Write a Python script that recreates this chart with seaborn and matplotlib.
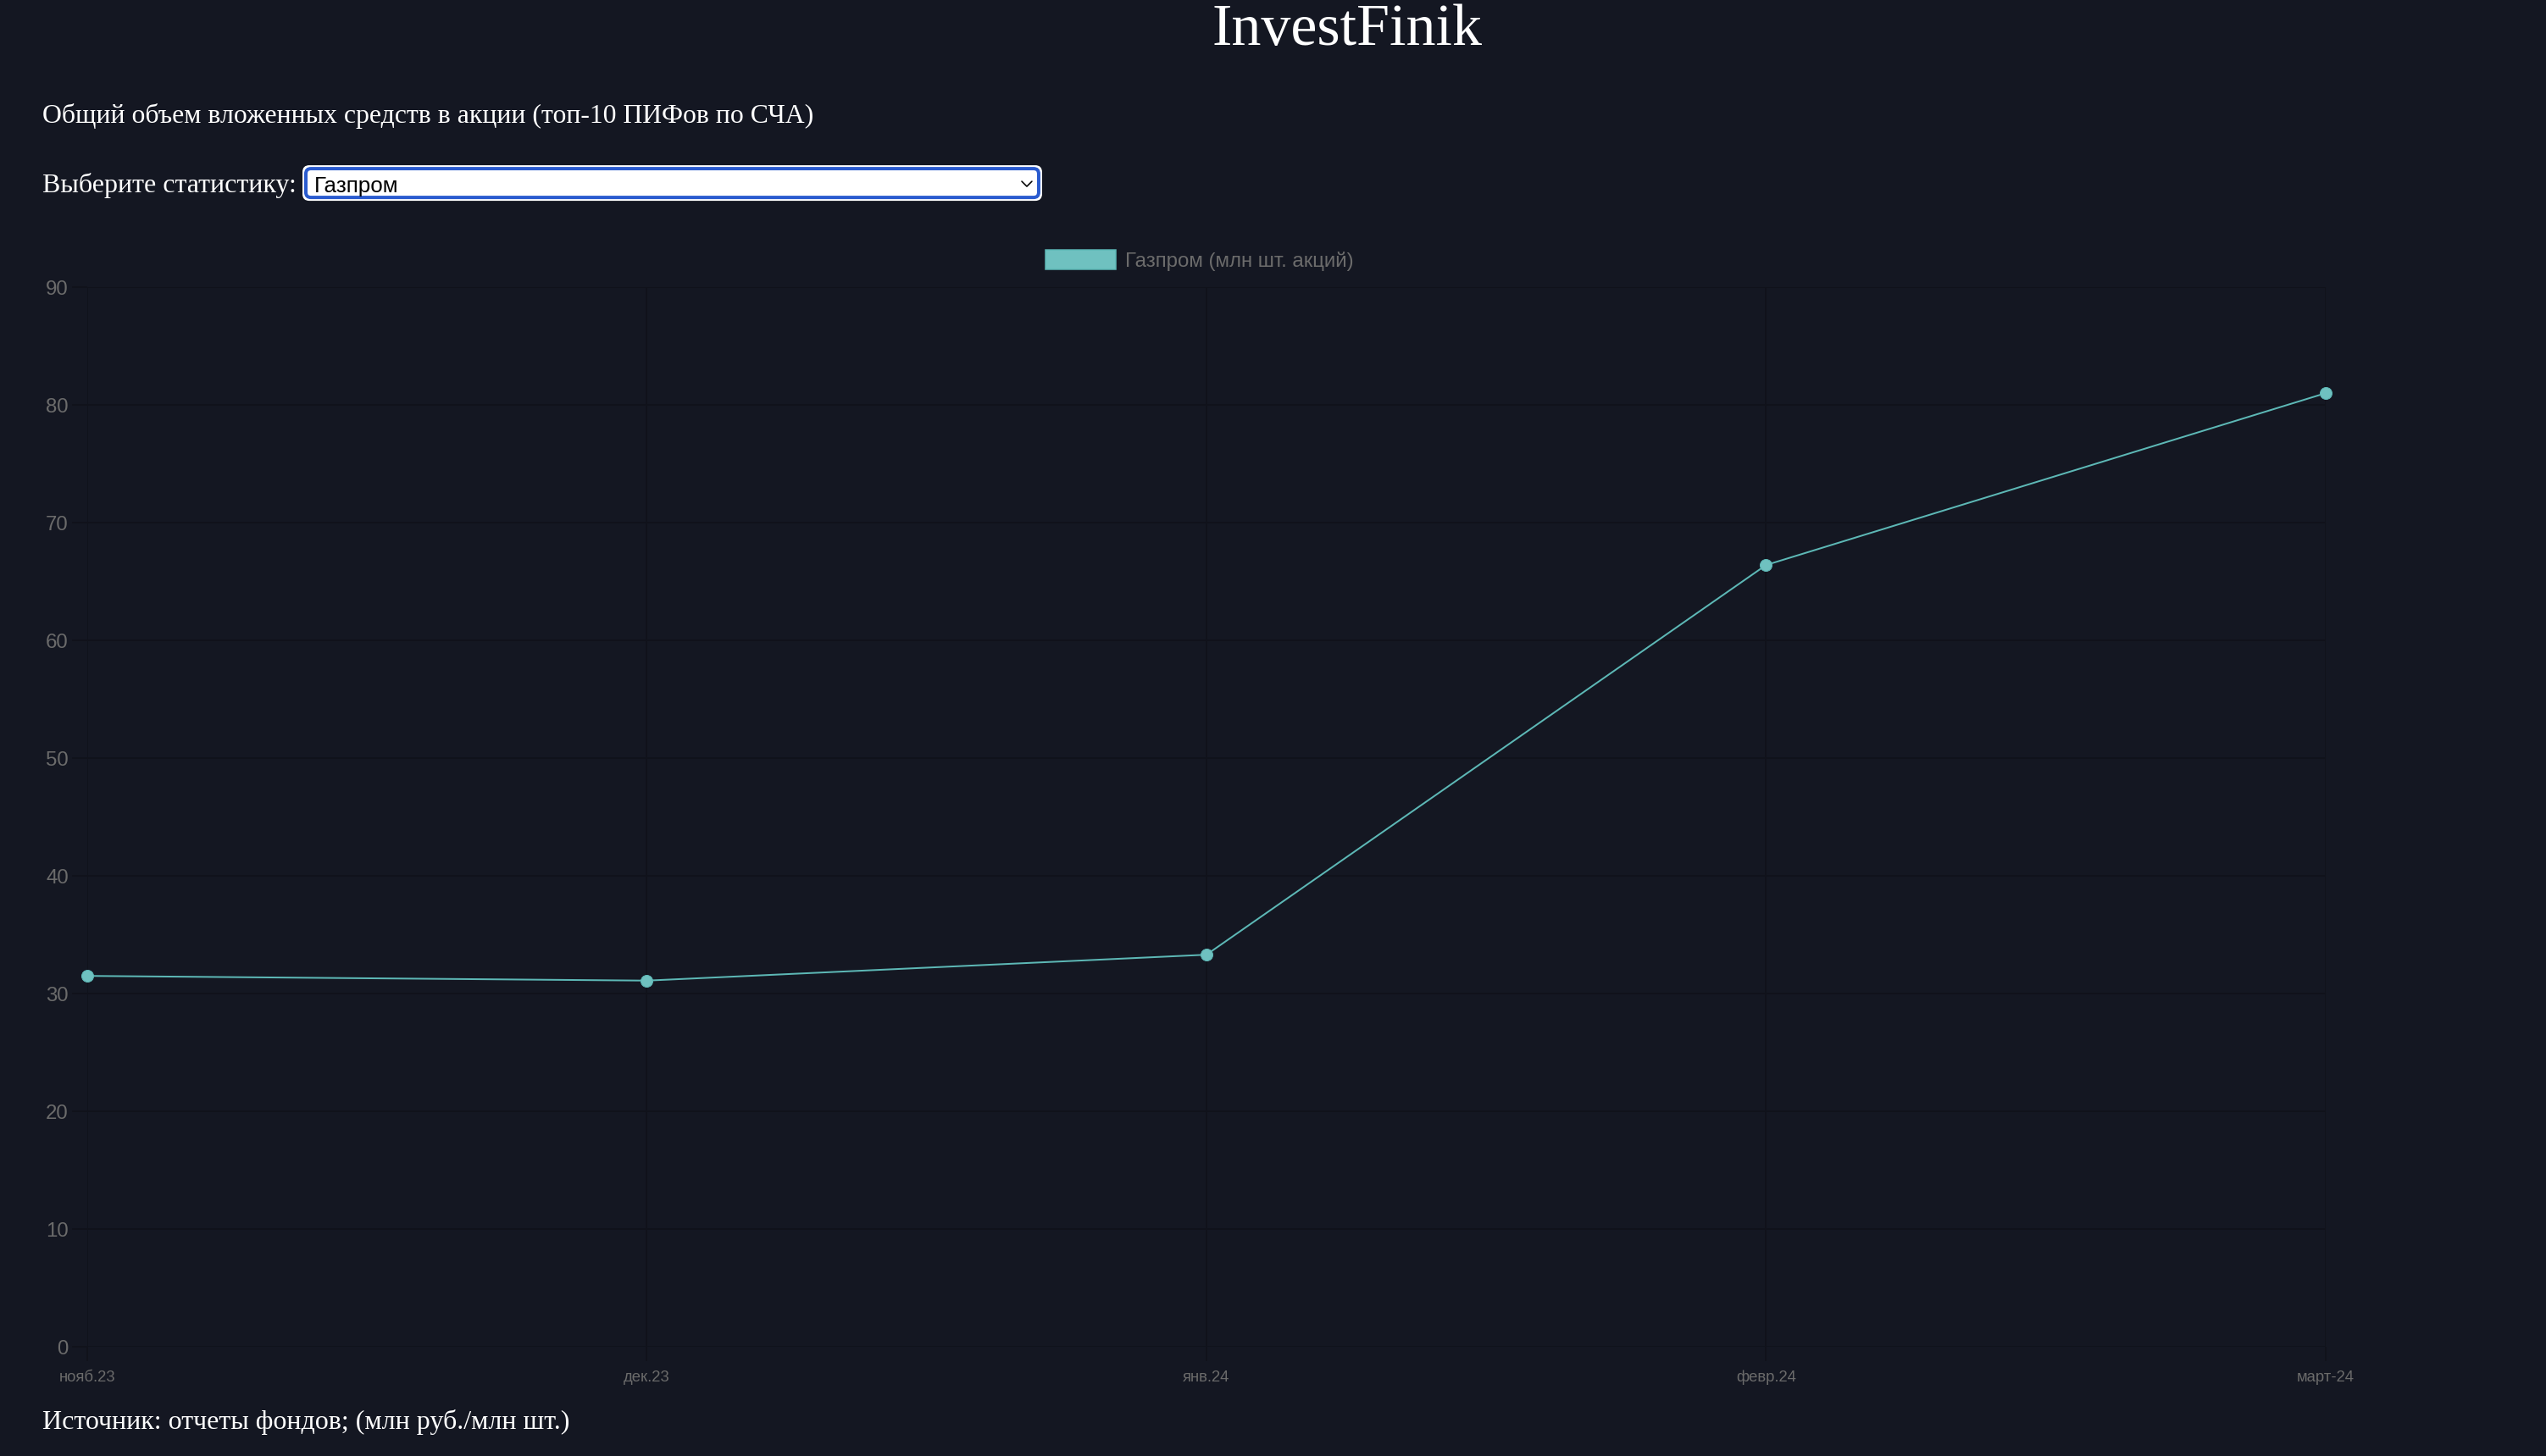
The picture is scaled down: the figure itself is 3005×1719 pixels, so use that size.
import matplotlib
matplotlib.use("Agg")
import matplotlib.pyplot as plt
from matplotlib.patches import FancyBboxPatch, Patch
import seaborn as sns
import pandas as pd

# ---- data ----
months = ["нояб.23", "дек.23", "янв.24", "февр.24", "март-24"]
gazprom = [31.5, 31.1, 33.3, 66.4, 81.0]
series_label = "Газпром (млн шт. акций)"
y_ticks = [0, 10, 20, 30, 40, 50, 60, 70, 80, 90]

title = "InvestFinik"
subtitle = "Общий объем вложенных средств в акции (топ-10 ПИФов по СЧА)"
select_label = "Выберите статистику:"
select_value = "Газпром"
source = "Источник: отчеты фондов; (млн руб./млн шт.)"

# ---- style ----
BG = "#141722"
GRID = "#10121b"
TICK = "#6b6b6b"
LINE = "#5db8b6"
FILL = "#6fc1c0"
W, H = 3006, 1720
PT = 0.72  # px -> pt at dpi 100

sns.set_theme(style="dark")
plt.rcParams["font.family"] = ["Liberation Sans", "DejaVu Sans"]

fig = plt.figure(figsize=(W / 100 - 0.001, H / 100 - 0.001), dpi=100,
                 facecolor=BG)

# overlay axes in pixel coordinates for page text / widget
ov = fig.add_axes([0, 0, 1, 1], zorder=0)
ov.set_xlim(0, W)
ov.set_ylim(H, 0)
ov.axis("off")
ov.patch.set_visible(False)

serif = ["Liberation Serif", "DejaVu Serif"]
ov.text(1590, 53, title, family=serif, fontsize=70 * PT, color="white",
        ha="center", va="baseline")
ov.text(50, 145, subtitle, family=serif, fontsize=31.8 * PT, color="white",
        ha="left", va="baseline")
ov.text(50, 227, select_label, family=serif, fontsize=32 * PT, color="white",
        ha="left", va="baseline")
ov.text(50, 1687, source, family=serif, fontsize=32 * PT, color="white",
        ha="left", va="baseline")

# select widget
ov.add_patch(FancyBboxPatch((358, 197), 871, 40,
                            boxstyle="round,pad=0,rounding_size=7",
                            facecolor="white", edgecolor="white", lw=2 * PT))
ov.add_patch(FancyBboxPatch((361, 200), 865, 34,
                            boxstyle="round,pad=0,rounding_size=6",
                            facecolor="white", edgecolor="#2a5bcf", lw=4 * PT))
ov.text(371, 227, select_value, fontsize=26 * PT, color="black",
        ha="left", va="baseline")
ov.plot([1206, 1212, 1218], [215, 221, 215], color="black", lw=1.6 * PT)

# ---- chart ----
ax = fig.add_axes([103 / W, (H - 1591) / H, (2745 - 103) / W, (1591 - 340) / H],
                  zorder=1)
ax.set_facecolor(BG)

df = pd.DataFrame({"month": months, "value": gazprom})
sns.lineplot(data=df, x="month", y="value", ax=ax, color=LINE,
             linewidth=2 * PT, marker="o", markersize=14 * PT,
             markerfacecolor=FILL, markeredgecolor=LINE,
             markeredgewidth=1 * PT, sort=False)
for ln in ax.lines:
    ln.set_clip_on(False)
    ln.set_zorder(5)

ax.set_xlim(0, len(months) - 1)
ax.set_ylim(0, 90)
ax.set_yticks(y_ticks)
ax.set_xticks(range(len(months)))
ax.set_xticklabels(months)
ax.set_xlabel("")
ax.set_ylabel("")
for s in ax.spines.values():
    s.set_visible(False)
ax.grid(True, color=GRID, linewidth=2 * PT)
ax.set_axisbelow(True)
ax.tick_params(axis="y", length=18 * PT, width=2 * PT, color=GRID,
               labelcolor=TICK, labelsize=24 * PT, pad=4 * PT, left=True)
ax.tick_params(axis="x", length=17 * PT, width=2 * PT, color=GRID,
               labelcolor=TICK, labelsize=18.5 * PT, pad=10 * PT, bottom=True)

handle = Patch(facecolor=FILL, edgecolor=LINE, linewidth=1.5 * PT)
leg = fig.legend(handles=[handle], labels=[series_label], loc="center",
                 bbox_to_anchor=(1416 / W, (H - 308) / H),
                 frameon=False, fontsize=24 * PT, handlelength=83 / 24,
                 handleheight=26 / 24, handletextpad=11 / 24,
                 borderpad=0, borderaxespad=0)
for t in leg.get_texts():
    t.set_color(TICK)

fig.savefig("out.png", dpi=100, facecolor=BG)
